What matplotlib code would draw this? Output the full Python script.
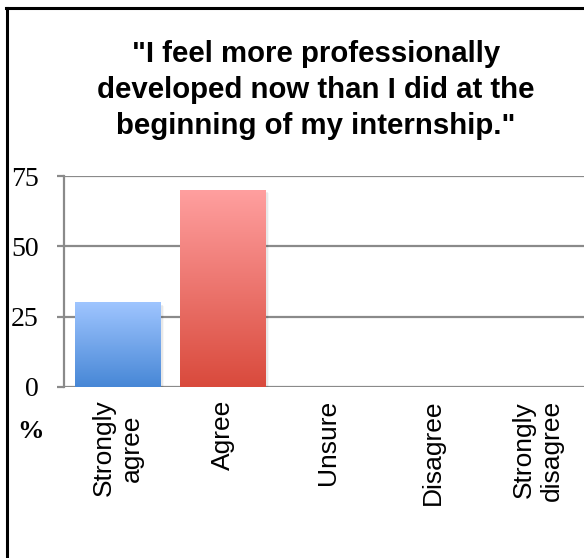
import numpy as np
import matplotlib
matplotlib.use("Agg")
import matplotlib.pyplot as plt
from matplotlib.colors import LinearSegmentedColormap
from matplotlib.lines import Line2D

categories = ["Strongly\nagree", "Agree", "Unsure", "Disagree", "Strongly\ndisagree"]
percent = [30, 70, 0, 0, 0]
yticks = [0, 25, 50, 75]
title = '"I feel more professionally\ndeveloped now than I did at the\nbeginning of my internship."'

# gradient (bottom colour, top colour) per bar
gradients = [("#4787d6", "#9fc5ff"), ("#d94a3c", "#ff9f9f"), ("#4787d6", "#9fc5ff"),
             ("#4787d6", "#9fc5ff"), ("#4787d6", "#9fc5ff")]

fig = plt.figure(figsize=(5.84, 5.58), dpi=100)
ax = fig.add_axes([64 / 584, 1 - 387 / 558, (584 - 64) / 584, (387 - 176) / 558])

x = np.arange(len(categories))
bars = ax.bar(x, percent, width=0.81, color="none", edgecolor="none", zorder=3)

grad = np.linspace(0, 1, 256).reshape(-1, 1)
for bar, (c0, c1) in zip(bars, gradients):
    h = bar.get_height()
    if h <= 0:
        continue
    x0 = bar.get_x()
    w = bar.get_width()
    # soft drop shadow
    for k, a in enumerate([0.10, 0.06, 0.03]):
        d = 0.012 * (k + 1)
        ax.add_patch(plt.Rectangle((x0 + d, -0.4 * (k + 1)), w, h, color="black",
                                   alpha=a, lw=0, zorder=2.5))
    cmap = LinearSegmentedColormap.from_list("g", [c0, c1])
    ax.imshow(grad, cmap=cmap, origin="lower", aspect="auto",
              extent=(x0, x0 + w, 0, h), zorder=3, interpolation="bilinear")

ax.set_xlim(-0.51, 4.443)
ax.set_ylim(0, 75)
ax.set_yticks(yticks)
ax.set_yticklabels([str(v) for v in yticks], fontfamily="Liberation Serif", fontsize=20)
ax.yaxis.grid(True, color="#8a8a8a", linewidth=1.6, zorder=1)
ax.set_axisbelow(True)
ax.tick_params(axis="y", length=5, width=1.6, color="#8a8a8a", pad=13)
ax.tick_params(axis="x", length=0, pad=9)
ax.set_xticks(x)
ax.set_xticklabels(categories, rotation=90, fontfamily="Liberation Sans", fontsize=19,
                   va="top", ha="center", multialignment="center")
for s in ["top", "right", "bottom"]:
    ax.spines[s].set_visible(False)
ax.spines["left"].set_color("#8a8a8a")
ax.spines["left"].set_linewidth(1.6)

fig.text(316 / 584, 1 - 90 / 558, title, ha="center", va="center",
         fontfamily="Liberation Sans", fontweight="bold", fontsize=21.2, linespacing=1.36)
fig.text(31 / 584, 1 - 432 / 558, "%", ha="center", va="center",
         fontfamily="Liberation Serif", fontweight="bold", fontsize=19)

# outer frame
fig.add_artist(Line2D([6.5 / 584, 6.5 / 584], [0, 1 - 7.5 / 558], color="black", lw=2.2,
                      transform=fig.transFigure))
fig.add_artist(Line2D([5.5 / 584, 1], [1 - 7.5 / 558, 1 - 7.5 / 558], color="black", lw=2.2,
                      transform=fig.transFigure))

fig.savefig("out.png", dpi=100)
